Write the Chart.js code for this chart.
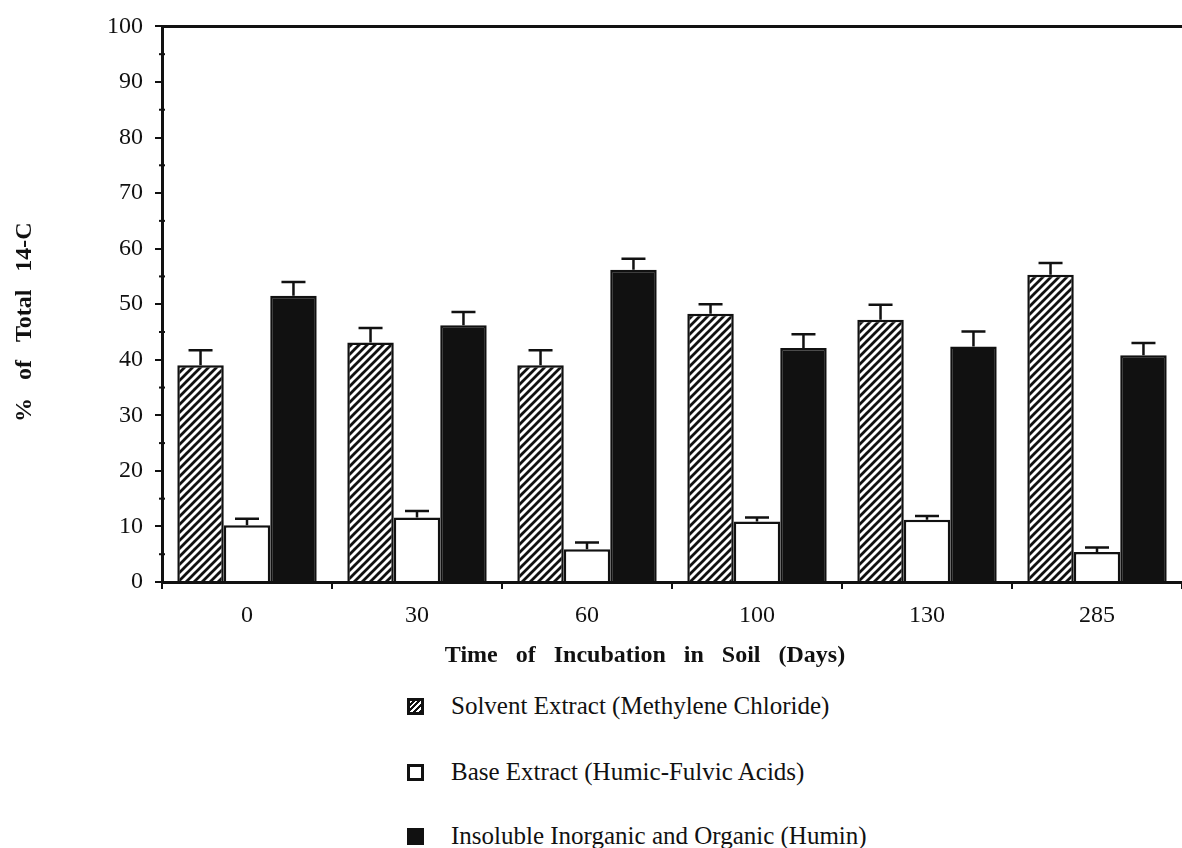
<!DOCTYPE html>
<html>
<head>
<meta charset="utf-8">
<script src="https://cdn.jsdelivr.net/npm/chart.js@4.4.0/dist/chart.umd.min.js"></script>
<style>
html,body{margin:0;padding:0;background:#fff;}
#wrap{position:relative;width:1182px;height:848px;overflow:hidden;}
#c{position:absolute;left:0;top:0;}
.leg{position:absolute;left:407px;height:30px;display:flex;align-items:center;font-family:"Liberation Serif","DejaVu Serif",serif;font-size:25px;color:#111;white-space:nowrap;}
.box{width:17px;height:17px;box-sizing:border-box;border:3px solid #111;margin-right:27px;}
.hatch{background:repeating-linear-gradient(-45deg,#111 0 2px,#fff 2px 4px);}
.white{background:#fff;}
.black{background:#111;}
</style>
</head>
<body>
<div id="wrap">
<canvas id="c" width="1182" height="690"></canvas>
<div class="leg" style="top:691px"><div class="box hatch"></div>Solvent Extract (Methylene Chloride)</div>
<div class="leg" style="top:757px"><div class="box white"></div>Base Extract (Humic-Fulvic Acids)</div>
<div class="leg" style="top:821px"><div class="box black"></div>Insoluble Inorganic and Organic (Humin)</div>
</div>
<script>
// ---- data ----
const days = ["0", "30", "60", "100", "130", "285"];
const solvent    = [39.0, 43.1, 39.0, 48.3, 47.2, 55.3];
const solventErr = [2.7, 2.6, 2.7, 1.7, 2.7, 2.1];
const base       = [10.2, 11.6, 5.9, 10.9, 11.2, 5.4];
const baseErr    = [1.2, 1.2, 1.2, 0.7, 0.7, 0.8];
const humin      = [51.5, 46.2, 56.2, 42.1, 42.4, 40.8];
const huminErr   = [2.5, 2.4, 2.0, 2.5, 2.7, 2.2];
const seriesNames = ["Solvent Extract (Methylene Chloride)", "Base Extract (Humic-Fulvic Acids)", "Insoluble Inorganic and Organic (Humin)"];
const yTicks = [0, 10, 20, 30, 40, 50, 60, 70, 80, 90, 100];

const INK = '#111111';
const SERIF = '"Liberation Serif","DejaVu Serif",serif';

function hatchPattern(){
  const t = document.createElement('canvas');
  t.width = 8; t.height = 8;
  const g = t.getContext('2d');
  g.fillStyle = '#fff'; g.fillRect(0,0,8,8);
  g.strokeStyle = INK; g.lineWidth = 2.8; g.lineCap = 'square';
  g.beginPath();
  g.moveTo(-2,10); g.lineTo(10,-2);
  g.moveTo(-6,6); g.lineTo(6,-6);
  g.moveTo(2,14); g.lineTo(14,2);
  g.stroke();
  return document.getElementById('c').getContext('2d').createPattern(t,'repeat');
}

const errPlugin = {
  id: 'errbars',
  afterDatasetsDraw(chart){
    const ctx = chart.ctx, ys = chart.scales.y, ca = chart.chartArea;
    ctx.save();
    ctx.strokeStyle = INK; ctx.lineWidth = 2.5; ctx.lineCap = 'butt';
    chart.data.datasets.forEach((ds, i) => {
      const meta = chart.getDatasetMeta(i);
      meta.data.forEach((bar, j) => {
        const yTop = ys.getPixelForValue(ds.data[j] + ds.errors[j]);
        const yBar = ys.getPixelForValue(ds.data[j]);
        ctx.beginPath();
        ctx.moveTo(bar.x, yBar); ctx.lineTo(bar.x, yTop);
        ctx.moveTo(bar.x - 12, yTop); ctx.lineTo(bar.x + 12, yTop);
        ctx.stroke();
      });
    });
    // top frame line
    ctx.lineWidth = 3;
    ctx.beginPath();
    ctx.moveTo(ca.left - 1, ca.top); ctx.lineTo(ca.right, ca.top);
    ctx.stroke();
    // minor ticks on y axis
    ctx.lineWidth = 2;
    for (let v = 5; v < 100; v += 10){
      const p = ys.getPixelForValue(v);
      ctx.beginPath(); ctx.moveTo(ca.left - 3, p); ctx.lineTo(ca.left + 3, p); ctx.stroke();
    }
    ctx.restore();
  }
};

const hatch = hatchPattern();

new Chart(document.getElementById('c'), {
  type: 'bar',
  data: {
    labels: days,
    datasets: [
      { label: seriesNames[0], data: solvent, errors: solventErr, backgroundColor: hatch, borderColor: INK, borderWidth: 2.5 },
      { label: seriesNames[1], data: base, errors: baseErr, backgroundColor: '#ffffff', borderColor: INK, borderWidth: 2.5 },
      { label: seriesNames[2], data: humin, errors: huminErr, backgroundColor: INK, borderColor: INK, borderWidth: 2.5 }
    ]
  },
  options: {
    responsive: false,
    animation: false,
    datasets: { bar: { categoryPercentage: 0.82, barPercentage: 1.0 } },
    layout: { padding: { left: 0, top: 21, right: 0, bottom: 0 } },
    plugins: { legend: { display: false }, tooltip: { enabled: false } },
    scales: {
      x: {
        grid: { display: true, drawOnChartArea: false, offset: true, tickLength: 7, lineWidth: 2, color: INK },
        border: { display: true, color: INK, width: 3 },
        ticks: { color: INK, padding: 12, font: { family: SERIF, size: 24 } },
        title: { display: true, text: 'Time   of   Incubation   in   Soil   (Days)         ', color: INK,
                 font: { family: SERIF, size: 24, weight: 'bold' }, padding: { top: 0, bottom: 20 } },
        afterFit(s){ s.height = 108; }
      },
      y: {
        min: 0, max: 100,
        afterBuildTicks(s){ s.ticks = yTicks.map(v => ({ value: v })); },
        grid: { display: true, drawOnChartArea: false, tickLength: 7, lineWidth: 2, color: INK },
        border: { display: true, color: INK, width: 3 },
        ticks: { color: INK, padding: 12, font: { family: SERIF, size: 24 } },
        title: { display: true, text: '%   of   Total   14-C      ', color: INK,
                 font: { family: SERIF, size: 24, weight: 'bold' }, padding: { top: 10, bottom: 0 } },
        afterFit(s){ s.width = 162; }
      }
    }
  },
  plugins: [errPlugin]
});
</script>
</body>
</html>
